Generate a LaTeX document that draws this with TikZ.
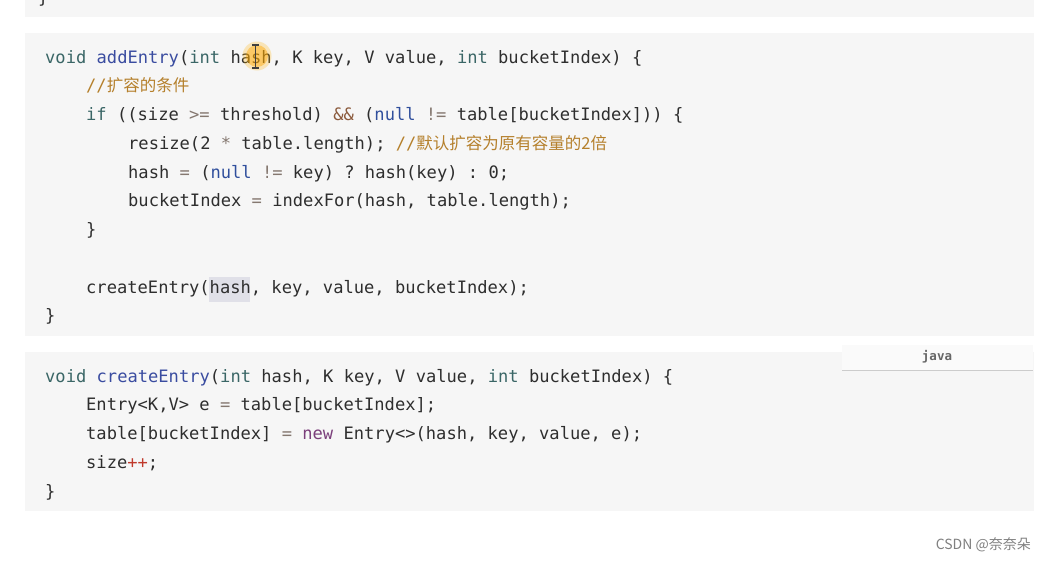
\documentclass[tikz,border=0pt]{standalone}
\usepackage{fontspec}
\setmonofont{DejaVu Sans Mono}
\newfontfamily\cjk{Noto Sans CJK SC}
\definecolor{bgc}{HTML}{F6F6F6}
\definecolor{txc}{HTML}{2E2E2E}
\definecolor{kwc}{HTML}{3A6666}
\definecolor{fnc}{HTML}{3A4CA0}
\definecolor{nlc}{HTML}{2F4E9C}
\definecolor{opc}{HTML}{857870}
\definecolor{ampc}{HTML}{8B5A3C}
\definecolor{newc}{HTML}{7B3F7B}
\definecolor{incc}{HTML}{C0392B}
\definecolor{cmc}{HTML}{B5802C}
\newcommand\ckw[1]{\textcolor{kwc}{#1}}
\newcommand\cfn[1]{\textcolor{fnc}{#1}}
\newcommand\cnul[1]{\textcolor{nlc}{#1}}
\newcommand\cop[1]{\textcolor{opc}{#1}}
\newcommand\camp[1]{\textcolor{ampc}{#1}}
\newcommand\cnew[1]{\textcolor{newc}{#1}}
\newcommand\cinc[1]{\textcolor{incc}{#1}}
\newcommand\ccm[1]{\textcolor{cmc}{#1}}
\begin{document}
\begin{tikzpicture}[x=1pt,y=-1pt,
  codeline/.style={anchor=base west,inner sep=0pt,text=txc,
    font=\ttfamily\fontsize{17.1}{20}\selectfont},
  block/.style={fill=bgc,draw=none}]
\useasboundingbox (0,0) rectangle (1047,562);
\fill[white] (0,0) rectangle (1047,562);
% blocks
\path[block] (25,0) rectangle (1034,17);
\path[block] (25,33) rectangle (1034,336);
\path[block] (25,352) rectangle (1034,511);
% java tab
\fill[white!50!bgc] (842,345) rectangle (1033,370);
\draw[black!20,line width=1.2pt] (842,370.5) -- (1033,370.5);
\node[inner sep=0pt,text=black!60,font=\ttfamily\bfseries\fontsize{12.5}{14}\selectfont] (javatab) at (937,357) {java};
% highlight
\fill[blue!25!black!12] (209,277) rectangle (250,302);
% top block brace
\node[codeline] (top) at (38,3) {\}};
% block 2
\node[codeline] (a1) at (45,63) {\ckw{void} \cfn{addEntry}(\ckw{int} hash, K key, V value, \ckw{int} bucketIndex) \{};
\node[codeline] (a2) at (86,91.75) {\ccm{//{\cjk\fontsize{16.5}{20}\selectfont 扩容的条件}}};
\node[codeline] (a3) at (86,120.5) {\ckw{if} ((size \cop{>=} threshold) \camp{\&\&} (\cnul{null} \cop{!=} table[bucketIndex])) \{};
\node[codeline] (a4) at (128,149.25) {resize(2 \cop{*} table.length); \ccm{//{\cjk\fontsize{16.5}{20}\selectfont 默认扩容为原有容量的2倍}}};
\node[codeline] (a5) at (128,178) {hash \cop{=} (\cnul{null} \cop{!=} key) ? hash(key) : 0;};
\node[codeline] (a6) at (128,206.75) {bucketIndex \cop{=} indexFor(hash, table.length);};
\node[codeline] (a7) at (86,235.5) {\}};
\node[codeline] (a8) at (86,293) {createEntry(hash, key, value, bucketIndex);};
\node[codeline] (a9) at (45,321.75) {\}};
% block 3
\node[codeline] (b1) at (45,382) {\ckw{void} \cfn{createEntry}(\ckw{int} hash, K key, V value, \ckw{int} bucketIndex) \{};
\node[codeline] (b2) at (86,410.75) {Entry<K,V> e \cop{=} table[bucketIndex];};
\node[codeline] (b3) at (86,439.5) {table[bucketIndex] \cop{=} \cnew{new} Entry<>(hash, key, value, e);};
\node[codeline] (b4) at (86,468.25) {size\cinc{++};};
\node[codeline] (b5) at (45,497) {\}};
% cursor
\fill[orange!60!yellow,opacity=0.25] (257,56) circle (14.5);
\fill[orange!70!yellow,opacity=0.45] (257,56) circle (11);
\draw[black!75,line width=1.2pt] (255.5,45) -- (255.5,68)
  (252,45) -- (259,45) (252,68) -- (259,68);
% watermark
\node[anchor=east,inner sep=0pt,text=black!50,font=\cjk\fontsize{14}{16}\selectfont] (wm) at (1031,545) {CSDN @奈奈朵};
\end{tikzpicture}
\end{document}
